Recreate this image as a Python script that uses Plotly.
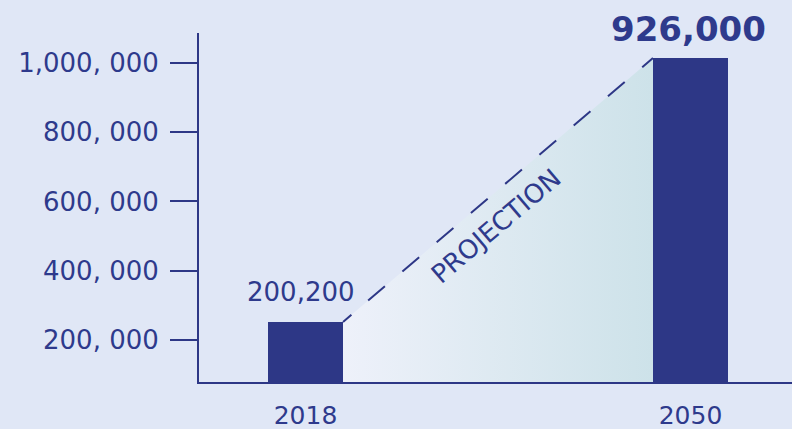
import plotly.graph_objects as go

# ---- data ----
years = ["2018", "2050"]
x_pos = [0, 1]
bar_values = [252000, 1014400]          # bar heights as drawn against the axis
bar_labels = ["200,200", "926,000"]     # labels printed on the chart
y_tickvals = [200000, 400000, 600000, 800000, 1000000]
y_ticktext = ["200, 000", "400, 000", "600, 000", "800, 000", "1,000, 000"]

# ---- style ----
BG = "#e0e7f6"
NAVY = "#2d3786"
TXT = "#2e3a8c"
FONT = "DejaVu Sans"
BAR_W = 0.195

fig = go.Figure()

# projection wedge (gradient) between bar tops
x_left = x_pos[0] + BAR_W / 2
x_right = x_pos[1] - BAR_W / 2
fig.add_trace(go.Scatter(
    x=[x_left, x_right, x_right, x_left, x_left],
    y=[bar_values[0], bar_values[1], 0, 0, bar_values[0]],
    mode="lines", line=dict(width=0),
    fill="toself",
    fillgradient=dict(type="horizontal",
                      colorscale=[[0, "#eef1fa"], [1, "#cde2e9"]]),
    hoverinfo="skip", showlegend=False, cliponaxis=True,
))

# dashed projection line
dash = "11px,22px," + ",".join(["22px,23px"] * 9)
fig.add_trace(go.Scatter(
    x=[x_left, x_right], y=[bar_values[0], bar_values[1]],
    mode="lines", line=dict(color=NAVY, width=2, dash=dash),
    hoverinfo="skip", showlegend=False,
))

# bars
fig.add_trace(go.Bar(
    x=x_pos, y=bar_values, width=BAR_W,
    marker=dict(color=NAVY, line=dict(width=0)),
    showlegend=False, hoverinfo="skip",
))

# labels
fig.add_annotation(x=x_pos[0], y=bar_values[0], text=bar_labels[0],
                   showarrow=False, yanchor="bottom", yshift=13, xshift=-5,
                   font=dict(family=FONT, size=26, color=TXT))
fig.add_annotation(x=x_pos[1], y=bar_values[1], text="<b>" + bar_labels[1] + "</b>",
                   showarrow=False, yanchor="bottom", yshift=7, xshift=-2,
                   font=dict(family=FONT, size=34, color=TXT))
fig.add_annotation(x=(x_left + x_right) / 2, y=(bar_values[0] + bar_values[1]) / 2,
                   text="PROJECTION", showarrow=False, textangle=-40.4,
                   xshift=-2, yshift=-36,
                   font=dict(family=FONT, size=26, color=TXT))

fig.update_layout(
    width=792, height=429,
    margin=dict(l=199, r=0, t=33, b=47, autoexpand=False),
    paper_bgcolor=BG, plot_bgcolor=BG,
    bargap=0,
    xaxis=dict(range=[-0.2766, 1.2636], tickvals=x_pos, ticktext=years,
               showline=True, linecolor=NAVY, linewidth=2,
               showgrid=False, zeroline=False, ticks="",
               automargin=False, ticklabelstandoff=10,
               tickfont=dict(family=FONT, size=25, color=TXT)),
    yaxis=dict(range=[78700, 1086600], tickvals=y_tickvals, ticktext=y_ticktext,
               showline=True, linecolor=NAVY, linewidth=2,
               showgrid=False, zeroline=False, automargin=False,
               ticks="outside", ticklen=27, tickwidth=2, tickcolor=NAVY,
               ticklabelstandoff=6,
               tickfont=dict(family=FONT, size=26, color=TXT)),
)

fig.write_html("out.html")
